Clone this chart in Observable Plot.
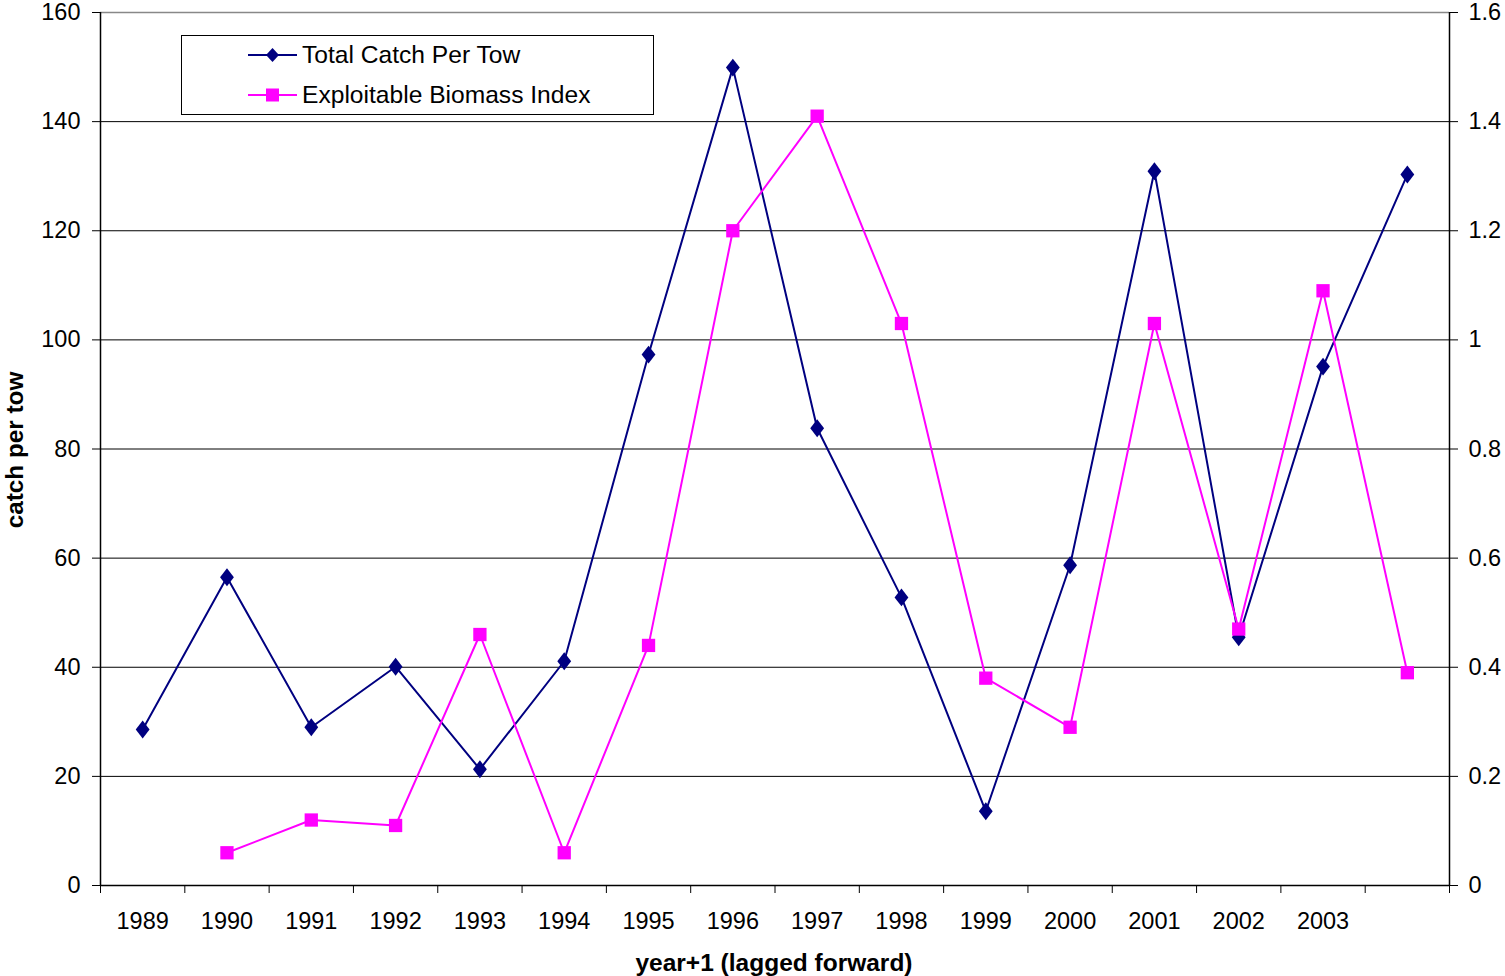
<!DOCTYPE html>
<html>
<head>
<meta charset="utf-8">
<script src="https://cdn.jsdelivr.net/npm/d3@7"></script>
<script src="https://cdn.jsdelivr.net/npm/@observablehq/plot@0.6"></script>
<style>
  html, body { margin: 0; padding: 0; background: #fff; }
  #wrap { position: relative; width: 1505px; height: 976px; font-family: "Liberation Sans", Arial, sans-serif; }
  #legend { position: absolute; left: 181px; top: 35px; width: 471px; height: 78px; border: 1px solid #000; background: #fff; }
  .item { position: absolute; left: 66px; height: 30px; display: flex; align-items: center; font-size: 24.6px; color: #000; }
  .item svg { margin-right: 4px; }
  .ytitle { position: absolute; left: 15px; top: 450px; transform: translate(-50%, -50%) rotate(-90deg); font-weight: bold; font-size: 24.3px; white-space: nowrap; }
  .xtitle { position: absolute; left: 774px; top: 963px; transform: translate(-50%, -50%); font-weight: bold; font-size: 24.5px; white-space: nowrap; }
</style>
</head>
<body>
<div id="wrap"></div>
<script>
// Data
const years = [1989, 1990, 1991, 1992, 1993, 1994, 1995, 1996, 1997, 1998, 1999, 2000, 2001, 2002, 2003, 2004];
const labeledYears = [1989, 1990, 1991, 1992, 1993, 1994, 1995, 1996, 1997, 1998, 1999, 2000, 2001, 2002, 2003];
const totalCatchPerTow = [28.6, 56.5, 29.0, 40.1, 21.3, 41.1, 97.3, 149.9, 83.8, 52.8, 13.6, 58.7, 130.9, 45.5, 95.1, 130.3];
const exploitableBiomassIndex = [null, 0.06, 0.12, 0.11, 0.46, 0.06, 0.44, 1.20, 1.41, 1.03, 0.38, 0.29, 1.03, 0.47, 1.09, 0.39];
const leftTicks = [0, 20, 40, 60, 80, 100, 120, 140, 160];
const seriesNames = ["Total Catch Per Tow", "Exploitable Biomass Index"];
const colors = ["#000080", "#FF00FF"];

const catchData = years.map((y, i) => ({year: y, value: totalCatchPerTow[i]}));
// biomass drawn on the right axis (0–1.6) which maps to 0–160 of the left axis
const biomassData = years.map((y, i) => ({year: y, value: exploitableBiomassIndex[i] == null ? null : exploitableBiomassIndex[i] * 100}));
const boundaries = years.map(y => y - 0.5).concat([years[years.length - 1] + 0.5]);
const xDomain = [boundaries[0], boundaries[boundaries.length - 1]];

const diamond = {
  draw(context, size) {
    const r = Math.sqrt(size / 2);
    const w = r * 0.85, h = r * 1.1;
    context.moveTo(0, -h); context.lineTo(w, 0); context.lineTo(0, h); context.lineTo(-w, 0); context.closePath();
  }
};

const chart = Plot.plot({
  width: 1505,
  height: 976,
  marginTop: 12,
  marginRight: 56,
  marginBottom: 91,
  marginLeft: 100,
  style: {fontFamily: "Liberation Sans, Arial, sans-serif", fontSize: "23.5px", background: "transparent", color: "#000"},
  x: {domain: xDomain},
  y: {domain: [0, 160]},
  marks: [
    Plot.gridY(leftTicks.filter(d => d > 0 && d < 160), {stroke: "#000", strokeOpacity: 1, strokeWidth: 1}),
    Plot.ruleY([160], {stroke: "#888", strokeWidth: 1.5}),
    Plot.ruleY([0], {stroke: "#000", strokeWidth: 1.5}),
    Plot.ruleX([xDomain[0], xDomain[1]], {stroke: "#000", strokeWidth: 1.5}),
    Plot.axisY({ticks: leftTicks, anchor: "left", tickSize: 8, tickPadding: 12, label: null, fontSize: 23.5}),
    Plot.axisY({ticks: leftTicks, anchor: "right", tickSize: 8, tickPadding: 11, label: null, fontSize: 23.5,
      tickFormat: d => String(+(d / 100).toFixed(1))}),
    Plot.axisX({ticks: boundaries, tickSize: 8, tickFormat: () => "", label: null}),
    Plot.axisX({ticks: labeledYears, tickSize: 0, tickPadding: 27, tickFormat: d => String(d), label: null, fontSize: 23.5}),
    Plot.line(catchData, {x: "year", y: "value", stroke: colors[0], strokeWidth: 2}),
    Plot.dot(catchData, {x: "year", y: "value", symbol: diamond, r: 6.5, fill: colors[0], stroke: "none"}),
    Plot.line(biomassData, {x: "year", y: "value", stroke: colors[1], strokeWidth: 2}),
    Plot.dot(biomassData.filter(d => d.value != null), {x: "year", y: "value", symbol: "square", r: 7.5, fill: colors[1], stroke: "none"})
  ]
});

const wrap = document.getElementById("wrap");
wrap.appendChild(chart);

// legend
const legend = document.createElement("div");
legend.id = "legend";
seriesNames.forEach((name, i) => {
  const item = document.createElement("div");
  item.className = "item";
  item.style.top = (i === 0 ? 4 : 44) + "px";
  const marker = i === 0
    ? `<polygon points="24.5,3 31,10 24.5,17 18,10" fill="${colors[0]}"/>`
    : `<rect x="18" y="3.5" width="13" height="13" fill="${colors[1]}"/>`;
  item.innerHTML = `<svg width="50" height="20"><line x1="0" y1="10" x2="49" y2="10" stroke="${colors[i]}" stroke-width="2"/>${marker}</svg><span>${name}</span>`;
  legend.appendChild(item);
});
wrap.appendChild(legend);

const yt = document.createElement("div");
yt.className = "ytitle"; yt.textContent = "catch per tow";
wrap.appendChild(yt);
const xt = document.createElement("div");
xt.className = "xtitle"; xt.textContent = "year+1 (lagged forward)";
wrap.appendChild(xt);
</script>
</body>
</html>
